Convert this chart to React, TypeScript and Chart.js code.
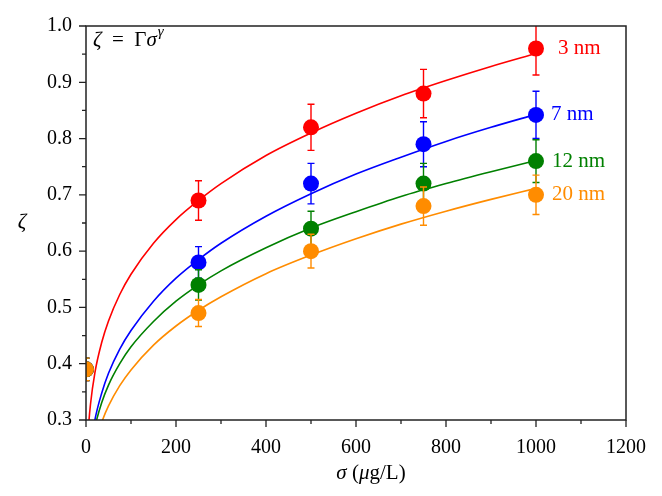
import React, { useEffect, useRef } from 'react';
import { Chart, registerables } from 'chart.js';

Chart.register(...registerables);

// ---- data ----
const sigma = [0, 250, 500, 750, 1000];

const zeta3nm = [0.39, 0.69, 0.82, 0.88, 0.96];
const err3nm = [0.02, 0.035, 0.041, 0.043, 0.047];
const zeta7nm = [0.39, 0.58, 0.72, 0.79, 0.842];
const err7nm = [0.02, 0.028, 0.036, 0.04, 0.042];
const zeta12nm = [0.39, 0.54, 0.64, 0.72, 0.76];
const err12nm = [0.02, 0.027, 0.031, 0.036, 0.038];
const zeta20nm = [0.39, 0.49, 0.6, 0.68, 0.7];
const err20nm = [0.02, 0.024, 0.03, 0.034, 0.035];

const fitSigma = [2, 5, 10, 20, 35, 50, 75, 100, 150, 200, 250, 300, 400, 500, 600, 700, 800, 900, 1000];
const fit3nm = [0.226, 0.28, 0.328, 0.385, 0.438, 0.476, 0.523, 0.559, 0.614, 0.656, 0.69, 0.72, 0.77, 0.81, 0.845, 0.876, 0.903, 0.928, 0.951];
const fit7nm = [0.164, 0.209, 0.25, 0.301, 0.348, 0.383, 0.426, 0.459, 0.511, 0.552, 0.585, 0.614, 0.662, 0.702, 0.737, 0.767, 0.795, 0.82, 0.843];
const fit12nm = [0.163, 0.204, 0.243, 0.288, 0.331, 0.362, 0.4, 0.43, 0.475, 0.511, 0.54, 0.565, 0.606, 0.641, 0.67, 0.697, 0.72, 0.741, 0.761];
const fit20nm = [0.14, 0.178, 0.213, 0.256, 0.296, 0.325, 0.361, 0.389, 0.433, 0.467, 0.495, 0.519, 0.56, 0.593, 0.622, 0.648, 0.671, 0.692, 0.7115];

const seriesNames = ['3 nm', '7 nm', '12 nm', '20 nm'];
const seriesColors = ['rgb(255,0,0)', 'rgb(0,0,255)', 'rgb(0,128,0)', 'rgb(255,140,0)'];
const seriesValues = [zeta3nm, zeta7nm, zeta12nm, zeta20nm];
const seriesErrors = [err3nm, err7nm, err12nm, err20nm];
const seriesFits = [fit3nm, fit7nm, fit12nm, fit20nm];

const xMajorTicks = [0, 200, 400, 600, 800, 1000, 1200];
const xMinorTicks = [100, 300, 500, 700, 900, 1100];
const yMajorTicks = [0.3, 0.4, 0.5, 0.6, 0.7, 0.8, 0.9, 1.0];
const yMinorTicks = [0.35, 0.45, 0.55, 0.65, 0.75, 0.85, 0.95];

const labelDx = [22, 15, 16, 16];
const FONT = '"Liberation Serif", "Times New Roman", serif';

const decorPlugin = {
  id: 'decor',
  beforeDatasetDraw(chart: any, args: any) {
    const ds = chart.data.datasets[args.index];
    if (!ds.errors) return;
    const { ctx, chartArea } = chart;
    const xs = chart.scales.x;
    const ys = chart.scales.y;
    ctx.save();
    ctx.beginPath();
    ctx.rect(chartArea.left, chartArea.top, chartArea.right - chartArea.left, chartArea.bottom - chartArea.top);
    ctx.clip();
    ctx.strokeStyle = ds.backgroundColor;
    ctx.lineWidth = 1.4;
    ds.data.forEach((p: any, i: number) => {
      const e = ds.errors[i];
      const x = xs.getPixelForValue(p.x);
      const yt = ys.getPixelForValue(p.y + e);
      const yb = ys.getPixelForValue(p.y - e);
      ctx.beginPath();
      ctx.moveTo(x, yt);
      ctx.lineTo(x, yb);
      ctx.moveTo(x - 3.5, yt);
      ctx.lineTo(x + 3.5, yt);
      ctx.moveTo(x - 3.5, yb);
      ctx.lineTo(x + 3.5, yb);
      ctx.stroke();
    });
    ctx.restore();
  },
  afterDraw(chart: any) {
    const { ctx, chartArea } = chart;
    const xs = chart.scales.x;
    const ys = chart.scales.y;
    const { left, right, top, bottom } = chartArea;
    ctx.save();
    // frame
    ctx.strokeStyle = '#222';
    ctx.lineWidth = 1.5;
    ctx.strokeRect(left, top, right - left, bottom - top);
    // ticks
    ctx.lineWidth = 1.3;
    ctx.beginPath();
    xMajorTicks.forEach((v) => {
      const x = xs.getPixelForValue(v);
      ctx.moveTo(x, bottom);
      ctx.lineTo(x, bottom + 7);
    });
    xMinorTicks.forEach((v) => {
      const x = xs.getPixelForValue(v);
      ctx.moveTo(x, bottom);
      ctx.lineTo(x, bottom + 4);
    });
    yMajorTicks.forEach((v) => {
      const y = ys.getPixelForValue(v);
      ctx.moveTo(left, y);
      ctx.lineTo(left - 7, y);
    });
    yMinorTicks.forEach((v) => {
      const y = ys.getPixelForValue(v);
      ctx.moveTo(left, y);
      ctx.lineTo(left - 4, y);
    });
    ctx.stroke();

    // series labels
    ctx.textBaseline = 'middle';
    ctx.textAlign = 'left';
    ctx.font = `21px ${FONT}`;
    seriesNames.forEach((name, i) => {
      const vals = seriesValues[i];
      const x = xs.getPixelForValue(sigma[sigma.length - 1]) + labelDx[i];
      const y = ys.getPixelForValue(vals[vals.length - 1]);
      ctx.fillStyle = seriesColors[i];
      ctx.fillText(name, x, y);
    });

    const drawRuns = (runs: [string, string][], x: number, y: number, align: 'left' | 'center') => {
      ctx.textBaseline = 'alphabetic';
      ctx.textAlign = 'left';
      let total = 0;
      runs.forEach(([t, f]) => {
        ctx.font = f;
        total += ctx.measureText(t).width;
      });
      let cx = align === 'center' ? x - total / 2 : x;
      runs.forEach(([t, f]) => {
        ctx.font = f;
        ctx.fillText(t, cx, y);
        cx += ctx.measureText(t).width;
      });
      return cx;
    };
    ctx.fillStyle = '#000';
    const it = `italic 21px ${FONT}`;
    const up = `21px ${FONT}`;
    // x title
    drawRuns([['σ', it], [' (', up], ['μ', it], ['g/L)', up]], (left + right) / 2 + 15, 479, 'center');
    // y title
    drawRuns([['ζ', it]], 22, 228, 'center');
    // annotation
    const ax = drawRuns([['ζ', it], ['  =  Γ', up], ['σ', it]], left + 7, 46, 'left');
    ctx.font = `italic 15px ${FONT}`;
    ctx.fillText('γ', ax + 1, 36);
    ctx.restore();
  },
};

export default function App() {
  const ref = useRef<HTMLCanvasElement | null>(null);
  useEffect(() => {
    const canvas = ref.current;
    if (!canvas) return;
    const datasets: any[] = [];
    let drawIndex = 0;
    const nSets = seriesNames.length * 2;
    seriesNames.forEach((name, i) => {
      datasets.push({
        label: name + ' fit',
        data: fitSigma.map((s, k) => ({ x: s, y: seriesFits[i][k] })),
        showLine: true,
        borderColor: seriesColors[i],
        backgroundColor: seriesColors[i],
        borderWidth: 1.6,
        pointRadius: 0,
        pointHoverRadius: 0,
        cubicInterpolationMode: 'monotone',
        order: nSets - 1 - drawIndex++,
      });
      datasets.push({
        label: name,
        data: sigma.map((s, k) => ({ x: s, y: seriesValues[i][k] })),
        errors: seriesErrors[i],
        showLine: false,
        borderColor: seriesColors[i],
        backgroundColor: seriesColors[i],
        pointBackgroundColor: seriesColors[i],
        pointBorderWidth: 0,
        pointRadius: 8,
        pointHoverRadius: 8,
        order: nSets - 1 - drawIndex++,
      });
    });
    const chart = new Chart(canvas, {
      type: 'scatter',
      data: { datasets },
      options: {
        animation: false,
        responsive: false,
        events: [],
        layout: { padding: { top: 22, right: 35, left: 0, bottom: 0 } },
        plugins: { legend: { display: false }, tooltip: { enabled: false } },
        scales: {
          x: {
            type: 'linear',
            min: 0,
            max: 1200,
            afterFit: (s: any) => { s.height = 76; },
            grid: { display: false, drawTicks: false },
            border: { display: false },
            afterBuildTicks: (s: any) => { s.ticks = xMajorTicks.map((v) => ({ value: v })); },
            ticks: {
              color: '#000',
              padding: 16,
              font: { family: FONT, size: 20 },
              maxRotation: 0,
              callback: (v: any) => String(v),
            },
          },
          y: {
            type: 'linear',
            min: 0.3,
            max: 1.0,
            afterFit: (s: any) => { s.width = 86; },
            grid: { display: false, drawTicks: false },
            border: { display: false },
            afterBuildTicks: (s: any) => { s.ticks = yMajorTicks.map((v) => ({ value: v })); },
            ticks: {
              color: '#000',
              padding: 14,
              font: { family: FONT, size: 20 },
              callback: (v: any) => Number(v).toFixed(1),
            },
          },
        },
      },
      plugins: [decorPlugin],
    });
    return () => chart.destroy();
  }, []);
  return (
    <div style={{ position: 'fixed', left: 0, top: 0, width: 662, height: 496, background: '#fff' }}>
      <canvas ref={ref} width={662} height={496} />
    </div>
  );
}
